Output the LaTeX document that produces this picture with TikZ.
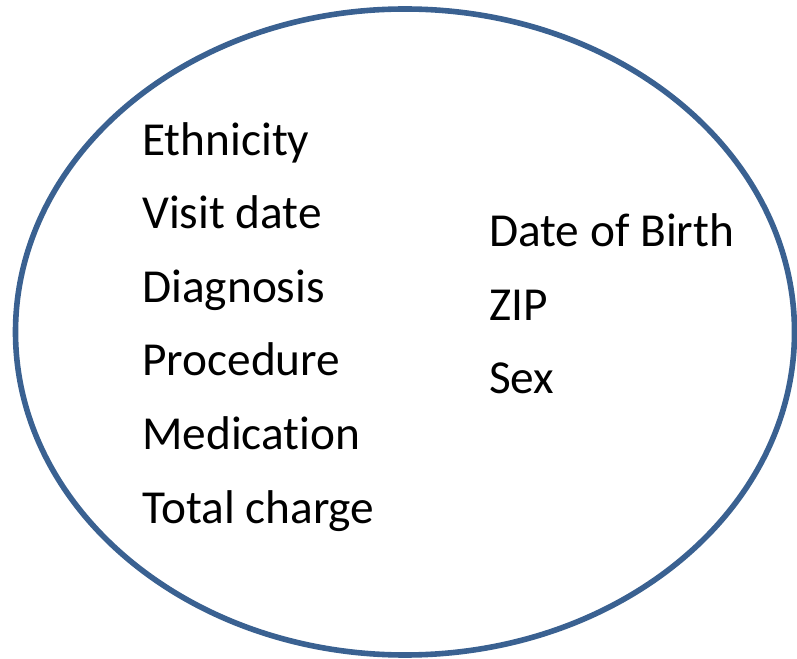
\documentclass[tikz,border=0pt]{standalone}
\usepackage{fontspec}
\setmainfont[Ligatures={NoCommon}]{Carlito}
\usepackage{tikz}
\definecolor{ringblue}{HTML}{3A6191}

\begin{document}
\begin{tikzpicture}[x=0.75pt,y=-0.75pt]
\tikzset{item/.style={anchor=base west, inner sep=0pt, font=\fontsize{35.5}{40}\selectfont}}
\useasboundingbox (0,0) rectangle (797,659) ;
\draw[ringblue, line width=4.2pt] (405,332) ellipse [x radius=389.5, y radius=323] ;
\node[item] (eth) at (142,156) {Ethnicity} ;
\node[item] (visit) at (142,229) {Visit date} ;
\node[item] (diag) at (142,303) {Diagnosis} ;
\node[item] (proc) at (142,376) {Procedure} ;
\node[item] (med) at (142,450) {Medication} ;
\node[item] (charge) at (142,523) {Total charge} ;
\node[item] (dob) at (489,247) {Date of Birth} ;
\node[item] (zip) at (489,321) {ZIP} ;
\node[item] (sex) at (489,394) {Sex} ;
\end{tikzpicture}
\end{document}
